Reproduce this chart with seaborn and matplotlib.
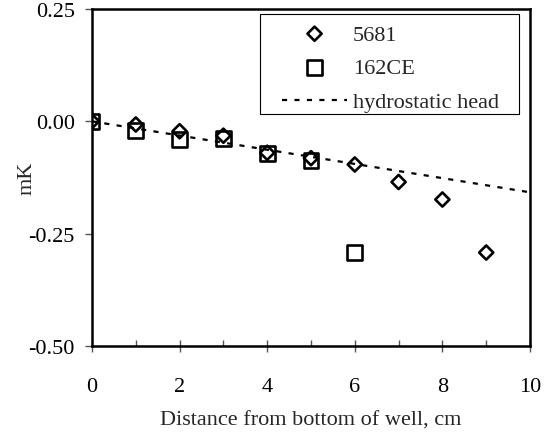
import matplotlib
matplotlib.use("Agg")
import matplotlib.pyplot as plt
from matplotlib.ticker import MultipleLocator, FormatStrFormatter
from matplotlib.patches import Rectangle
import seaborn as sns
import pandas as pd

# Data
x_5681 = [0, 1, 2, 3, 4, 5, 6, 7, 8, 9]
y_5681 = [0.0, -0.007, -0.022, -0.032, -0.070, -0.082, -0.096, -0.135, -0.174, -0.292]
x_162ce = [0, 1, 2, 3, 4, 5, 6]
y_162ce = [0.0, -0.020, -0.040, -0.038, -0.072, -0.088, -0.292]
x_head = [0, 10]
y_head = [0.0, -0.158]
labels = ["5681", "162CE", "hydrostatic head"]

sns.set_style("ticks")
plt.rcParams['font.family'] = ['Liberation Serif', 'DejaVu Serif']
FS = 16

W, H = 548, 435
L, R, T, B = 92, 530, 10, 347
fig = plt.figure(figsize=(W/100, H/100), dpi=100)
ax = fig.add_axes([L/W, 1-B/H, (R-L)/W, (B-T)/H])

def ax_x(px):
    return (px - L) / (R - L)

def ax_y(py):
    return 1 - (py - T) / (B - T)

df_a = pd.DataFrame({"x": x_5681, "y": y_5681})
df_b = pd.DataFrame({"x": x_162ce, "y": y_162ce})
df_h = pd.DataFrame({"x": x_head, "y": y_head})

sns.lineplot(data=df_h, x="x", y="y", ax=ax, color="black", lw=1.6,
             dashes=False, linestyle=(0, (2.3, 3.3)), label=labels[2], zorder=1)
sns.scatterplot(data=df_b, x="x", y="y", ax=ax, marker="s", s=115,
                facecolor="none", edgecolor="black", linewidth=1.9, label=labels[1], zorder=2)
sns.scatterplot(data=df_a, x="x", y="y", ax=ax, marker="D", s=52,
                facecolor="none", edgecolor="black", linewidth=1.9, label=labels[0], zorder=3)

ax.set_xlim(0, 10)
ax.set_ylim(-0.5, 0.25)
ax.xaxis.set_major_locator(MultipleLocator(2))
ax.xaxis.set_minor_locator(MultipleLocator(1))
ax.yaxis.set_major_locator(MultipleLocator(0.25))
ax.yaxis.set_major_formatter(FormatStrFormatter('%.2f'))
ax.tick_params(axis='x', which='major', direction='inout', length=9, width=1, colors='#555555',
               labelcolor='black', labelsize=FS, pad=18)
ax.tick_params(axis='x', which='minor', direction='in', length=4, width=1, colors='#555555')
ax.tick_params(axis='y', which='major', direction='out', length=5, width=1, colors='#555555',
               labelcolor='black', labelsize=FS, pad=7.5)
for s in ax.spines.values():
    s.set_visible(True)
    s.set_color("black")
    s.set_linewidth(1.8)
ax.set_xlabel("Distance from bottom of well, cm", fontsize=FS, labelpad=10)
ax.set_ylabel("mK", fontsize=FS, labelpad=-6)

h, l = ax.get_legend_handles_labels()
order = [l.index(labels[0]), l.index(labels[1]), l.index(labels[2])]
leg = ax.legend([h[i] for i in order], [l[i] for i in order],
                loc="upper left", bbox_to_anchor=(ax_x(282), ax_y(25)),
                borderaxespad=0, borderpad=0, frameon=False,
                fontsize=FS, handlelength=2.93, handletextpad=0.27,
                labelspacing=0.6)
leg.set_zorder(6)

# legend frame box
ax.add_patch(Rectangle((ax_x(260), ax_y(115)), ax_x(519) - ax_x(260), ax_y(15) - ax_y(115),
                       transform=ax.transAxes, facecolor="white", edgecolor="black",
                       linewidth=0.8, zorder=5, clip_on=False))

fig.savefig("out.png", dpi=100)
